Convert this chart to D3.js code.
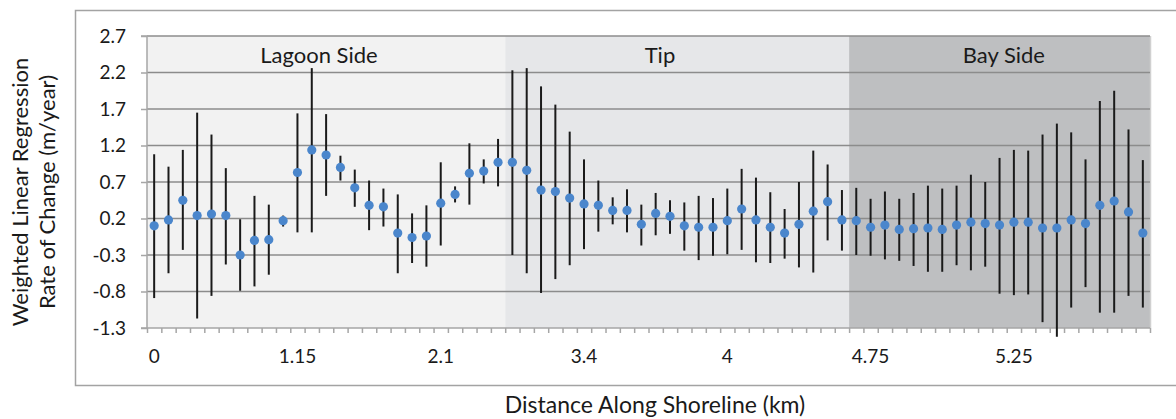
<html>
<head>
    <meta charset="utf-8">
    <title>Weighted Linear Regression Rate of Change</title>
    <style>
        body { margin: 0; background: #fff; }
        text { font-family: Lato, "Open Sans", sans-serif; fill: #1a1a1a; }
        .grid line { stroke: #8c8c8c; stroke-width: 1.5px; }
        .axis path, .axis line { stroke: #a6a6a6; stroke-width: 1.5px; }
        .axis text { font-size: 19px; }
        .err { stroke: #1a1a1a; stroke-width: 2px; }
        .pt { fill: #4a86cc; }
    </style>
</head>
<body>
    <svg width="1176" height="419"></svg>
    <script src="https://d3js.org/d3.v7.min.js"></script>
    <script>
        // rate of change (m/year) per transect, with upper/lower error bar ends
        var rate = [0.10, 0.18, 0.45, 0.24, 0.26, 0.24, -0.30, -0.10, -0.09, 0.17,
                    0.83, 1.14, 1.07, 0.90, 0.62, 0.38, 0.36, 0.00, -0.06, -0.04,
                    0.41, 0.53, 0.82, 0.85, 0.97, 0.97, 0.86, 0.59, 0.57, 0.48,
                    0.40, 0.38, 0.31, 0.31, 0.12, 0.27, 0.23, 0.10, 0.08, 0.08,
                    0.17, 0.33, 0.18, 0.08, 0.00, 0.12, 0.30, 0.43, 0.18, 0.17,
                    0.08, 0.11, 0.05, 0.06, 0.07, 0.05, 0.11, 0.15, 0.13, 0.11,
                    0.15, 0.15, 0.07, 0.07, 0.18, 0.13, 0.38, 0.44, 0.29, 0.00];
        var upper = [1.08, 0.91, 1.14, 1.65, 1.35, 0.89, 0.19, 0.51, 0.39, 0.24,
                     1.64, 2.26, 1.63, 1.06, 0.87, 0.72, 0.61, 0.53, 0.27, 0.38,
                     0.97, 0.64, 1.23, 1.01, 1.29, 2.23, 2.26, 2.01, 1.76, 1.39,
                     1.01, 0.72, 0.49, 0.60, 0.39, 0.55, 0.45, 0.42, 0.51, 0.48,
                     0.61, 0.88, 0.76, 0.56, 0.33, 0.70, 1.13, 0.94, 0.59, 0.62,
                     0.47, 0.57, 0.47, 0.55, 0.65, 0.61, 0.65, 0.80, 0.70, 1.03,
                     1.14, 1.13, 1.35, 1.50, 1.38, 1.01, 1.81, 1.95, 1.42, 1.00];
        var lower = [-0.89, -0.55, -0.23, -1.17, -0.86, -0.43, -0.79, -0.73, -0.57, 0.09,
                     0.01, 0.01, 0.51, 0.72, 0.36, 0.04, 0.09, -0.55, -0.41, -0.46,
                     -0.17, 0.42, 0.39, 0.68, 0.64, -0.30, -0.55, -0.82, -0.63, -0.44,
                     -0.22, 0.02, 0.12, 0.01, -0.17, -0.03, -0.01, -0.24, -0.37, -0.31,
                     -0.29, -0.23, -0.40, -0.41, -0.35, -0.47, -0.54, -0.10, -0.24, -0.30,
                     -0.31, -0.36, -0.38, -0.45, -0.53, -0.53, -0.44, -0.51, -0.46, -0.83,
                     -0.85, -0.84, -1.22, -1.42, -1.02, -0.74, -1.09, -1.09, -0.86, -1.02];

        var xTickLabels = ["0", "1.15", "2.1", "3.4", "4", "4.75", "5.25"];
        var xTickEvery = 10;
        var yTicks = [-1.3, -0.8, -0.3, 0.2, 0.7, 1.2, 1.7, 2.2, 2.7];

        var regionNames = ["Lagoon Side", "Tip", "Bay Side"];
        var regionStart = [0, 25, 49];
        var regionEnd = [25, 49, 70];
        var regionLabelAt = [12, 35.8, 59.8];
        var regionFill = ["#f2f2f2", "#e6e7e9", "#bebfc1"];

        var svg = d3.select("svg");
        var margin = { left: 147, right: 26, top: 36, bottom: 91 };
        var width = 1176, height = 419;
        var x0 = margin.left, x1 = width - margin.right;
        var y0 = margin.top, y1 = height - margin.bottom;

        // outer chart frame
        svg.append("rect")
            .attr("x", 75.5).attr("y", 10.5)
            .attr("width", 1120).attr("height", 375)
            .attr("fill", "none").attr("stroke", "#a3a3a3").attr("stroke-width", 1.5);

        var idx = d3.range(rate.length);
        var x = d3.scaleBand().domain(idx).range([x0, x1]);
        var xl = d3.scaleLinear().domain([0, rate.length]).range([x0, x1]);
        var y = d3.scaleLinear().domain([-1.3, 2.7]).range([y1, y0]);

        // shaded zones
        svg.append("g").selectAll("rect")
            .data(regionNames)
            .enter().append("rect")
            .attr("x", function (d, i) { return xl(regionStart[i]); })
            .attr("width", function (d, i) { return xl(regionEnd[i]) - xl(regionStart[i]); })
            .attr("y", y0)
            .attr("height", y1 - y0)
            .attr("fill", function (d, i) { return regionFill[i]; });

        // right border of plot area
        svg.append("line")
            .attr("x1", x1 + 0.5).attr("x2", x1 + 0.5).attr("y1", y0).attr("y2", y1)
            .attr("stroke", "#d0d0d0").attr("stroke-width", 1.5);

        // gridlines
        svg.append("g").attr("class", "grid")
            .selectAll("line")
            .data(yTicks.slice(1))
            .enter().append("line")
            .attr("x1", x0).attr("x2", x1)
            .attr("y1", function (d) { return y(d); })
            .attr("y2", function (d) { return y(d); });

        // zone labels
        svg.append("g").selectAll("text")
            .data(regionNames)
            .enter().append("text")
            .attr("x", function (d, i) { return xl(regionLabelAt[i]); })
            .attr("y", 63)
            .attr("text-anchor", "middle")
            .style("font-size", "22px")
            .text(function (d) { return d; });

        // y axis
        svg.append("g").attr("class", "axis")
            .attr("transform", "translate(" + x0 + ",0)")
            .call(d3.axisLeft(y).tickValues(yTicks).tickSize(6).tickPadding(15)
                .tickFormat(function (d) { return d.toFixed(1); }))
            .call(function (g) { g.select(".domain").attr("d", "M-6," + y0 + "H0V" + y1 + "H-6"); });

        // x axis: tick marks between categories
        svg.append("g").attr("class", "axis")
            .attr("transform", "translate(0," + y1 + ")")
            .call(d3.axisBottom(xl).tickValues(d3.range(rate.length + 1)).tickSize(5).tickFormat(""))
            .call(function (g) { g.select(".domain").attr("d", "M" + x0 + ",0H" + x1); });

        // x axis labels, every 10th category
        svg.append("g").attr("class", "axis")
            .attr("transform", "translate(0," + y1 + ")")
            .call(d3.axisBottom(x)
                .tickValues(idx.filter(function (i) { return i % xTickEvery === 0; }))
                .tickSize(0).tickPadding(22)
                .tickFormat(function (d) { return xTickLabels[d / xTickEvery]; }))
            .call(function (g) { g.select(".domain").remove(); });

        var cx = function (i) { return x(i) + x.bandwidth() / 2; };

        // error bars
        svg.append("g").selectAll("line")
            .data(idx)
            .enter().append("line")
            .attr("class", "err")
            .attr("x1", cx).attr("x2", cx)
            .attr("y1", function (i) { return y(upper[i]); })
            .attr("y2", function (i) { return y(lower[i]); });

        // points
        svg.append("g").selectAll("circle")
            .data(idx)
            .enter().append("circle")
            .attr("class", "pt")
            .attr("cx", cx)
            .attr("cy", function (i) { return y(rate[i]); })
            .attr("r", 4.6);

        // axis titles
        var yt = svg.append("text")
            .attr("transform", "translate(20,192) rotate(-90)")
            .attr("text-anchor", "middle")
            .style("font-size", "22px");
        yt.append("tspan").attr("x", 0).attr("dy", "0.35em").text("Weighted Linear Regression");
        yt.append("tspan").attr("x", 0).attr("dy", 27).text("Rate of Change (m/year)");

        svg.append("text")
            .attr("x", 655).attr("y", 413)
            .attr("text-anchor", "middle")
            .style("font-size", "23px")
            .text("Distance Along Shoreline (km)");
    </script>
</body>
</html>
